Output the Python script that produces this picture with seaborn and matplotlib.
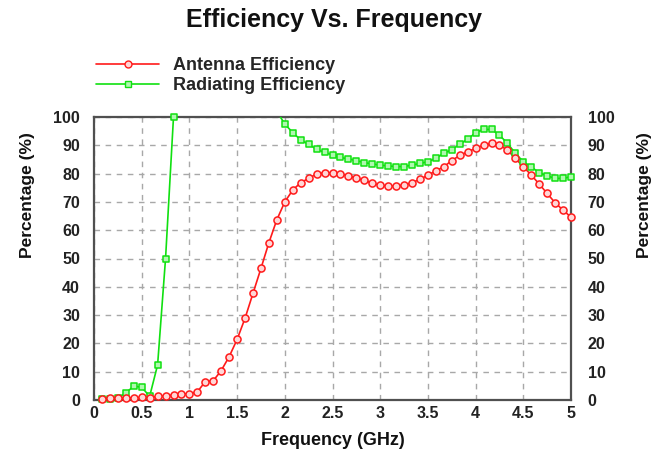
import numpy as np
import pandas as pd
import matplotlib
matplotlib.use("Agg")
import matplotlib.pyplot as plt
from matplotlib.lines import Line2D
import seaborn as sns

# ---- data ----
freq_ghz = [k / 12 for k in range(1, 61)]

antenna_eff = [0.5, 0.6, 0.6, 0.7, 0.8, 0.9, 0.8, 1.3, 1.4, 1.8,
               2.1, 2.2, 2.9, 6.5, 6.8, 10.4, 15.3, 21.4, 28.9, 37.7,
               46.5, 55.6, 63.7, 70.0, 74.2, 76.8, 78.3, 79.9, 80.3, 80.3,
               80.0, 79.2, 78.4, 77.6, 76.6, 75.9, 75.6, 75.6, 76.0, 76.8,
               78.0, 79.4, 81.0, 82.4, 84.6, 86.4, 87.7, 88.9, 90.1, 90.7,
               90.1, 88.3, 85.4, 82.4, 79.5, 76.3, 73.0, 69.7, 67.1, 64.6]

radiating_eff = [0.2, 0.2, 0.8, 2.5, 4.9, 4.5, 1.3, 12.4, 50.0, 100.0,
                 108, 115, 120, 122, 123, 122, 120, 117, 113, 109,
                 106, 104, 102.0, 97.5, 94.5, 91.9, 90.3, 88.6, 87.5, 86.6,
                 85.7, 85.2, 84.6, 83.9, 83.4, 83.0, 82.7, 82.5, 82.5, 83.0,
                 83.6, 84.2, 85.4, 87.2, 88.4, 90.4, 92.1, 94.5, 95.6, 95.6,
                 93.6, 90.7, 87.2, 84.2, 82.4, 80.3, 79.2, 78.3, 78.3, 78.9]

x_ticks = [0, 0.5, 1, 1.5, 2, 2.5, 3, 3.5, 4, 4.5, 5]
x_tick_labels = ["0", "0.5", "1", "1.5", "2", "2.5", "3", "3.5", "4", "4.5", "5"]
y_ticks = list(range(0, 101, 10))

series_names = ["Antenna Efficiency", "Radiating Efficiency"]

# ---- styling ----
sns.set_style("white")
plt.rcParams["font.family"] = ["Liberation Sans", "DejaVu Sans"]

RED = "#ff1a1a"
GREEN = "#10e010"
RED_FILL = "#ffd6d6"
GREEN_FILL = "#b0f7b0"

fig = plt.figure(figsize=(6.68, 4.53), dpi=100)
ax = fig.add_axes([94 / 668, 1 - 400 / 453, 477 / 668, 283 / 453])

df = pd.DataFrame({"freq": freq_ghz, "ant": antenna_eff, "rad": radiating_eff})

# lines (clipped to the axes)
sns.lineplot(data=df, x="freq", y="ant", color=RED, lw=1.2, ax=ax, zorder=3)
sns.lineplot(data=df, x="freq", y="rad", color=GREEN, lw=1.2, ax=ax, zorder=3)

# markers only for visible points
vis_ant = df[df["ant"] <= 100]
vis_rad = df[df["rad"] <= 100]
sns.scatterplot(data=vis_rad, x="freq", y="rad", marker="s", s=24,
                facecolor=GREEN_FILL, edgecolor=GREEN, linewidth=1.1,
                ax=ax, zorder=4, clip_on=False)
sns.scatterplot(data=vis_ant, x="freq", y="ant", marker="o", s=26,
                facecolor=RED_FILL, edgecolor=RED, linewidth=1.1,
                ax=ax, zorder=5, clip_on=False)

ax.set_xlim(0, 5)
ax.set_ylim(0, 100)
ax.set_xticks(x_ticks)
ax.set_xticklabels(x_tick_labels)
ax.set_yticks(y_ticks)

ax.grid(True, color="#a8a8a8", linestyle=(0, (4, 4)), lw=1.0)
for sp in ax.spines.values():
    sp.set_color("#505050")
    sp.set_linewidth(1.6)

tick_kw = dict(length=0, labelsize=11.5, colors="#222222")
ax.tick_params(axis="y", pad=10, **tick_kw)
ax.tick_params(axis="x", pad=4, **tick_kw)
for lab in ax.get_xticklabels() + ax.get_yticklabels():
    lab.set_fontweight("bold")

ax.set_xlabel("Frequency (GHz)", fontsize=13, fontweight="bold", color="#111111")
ax.xaxis.set_label_coords(0.5, -0.112)
ax.set_ylabel("Percentage (%)", fontsize=12.5, fontweight="bold", color="#111111")
ax.yaxis.set_label_coords(-0.124, 0.724)

ax2 = ax.twinx()
ax2.set_ylim(0, 100)
ax2.set_yticks(y_ticks)
ax2.tick_params(axis="y", pad=12, **tick_kw)
for lab in ax2.get_yticklabels():
    lab.set_fontweight("bold")
ax2.set_ylabel("Percentage (%)", fontsize=12.5, fontweight="bold", color="#111111")
ax2.yaxis.set_label_coords(1.138, 0.724)
for sp in ax2.spines.values():
    sp.set_visible(False)

fig.text(0.5, 1 - 20 / 453, "Efficiency Vs. Frequency", ha="center", va="center",
         fontsize=18, fontweight="bold", color="#111111")

handles = [
    Line2D([], [], color=RED, lw=1.2, marker="o", markersize=5,
           markerfacecolor=RED_FILL, markeredgecolor=RED),
    Line2D([], [], color=GREEN, lw=1.2, marker="s", markersize=4.5,
           markerfacecolor=GREEN_FILL, markeredgecolor=GREEN),
]
fig.legend(handles, series_names, loc="upper left",
           bbox_to_anchor=(80 / 668, 1 - 41 / 453), frameon=False,
           handlelength=3.5, handletextpad=0.75, labelspacing=0.15,
           prop={"size": 13, "weight": "bold"})

fig.savefig("out.png", dpi=100)
